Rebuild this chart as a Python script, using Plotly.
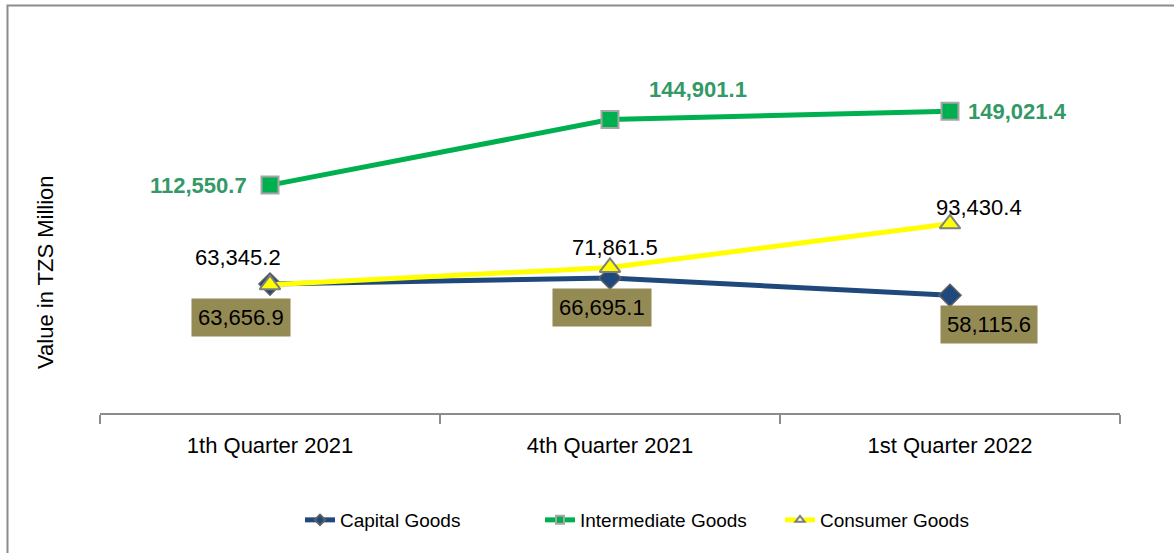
import plotly.graph_objects as go

categories = ["1th Quarter 2021", "4th Quarter 2021", "1st Quarter 2022"]
capital = [63656.9, 66695.1, 58115.6]
intermediate = [112550.7, 144901.1, 149021.4]
consumer = [63345.2, 71861.5, 93430.4]
series_names = ["Capital Goods", "Intermediate Goods", "Consumer Goods"]

FONT = "Liberation Sans, Arial, sans-serif"
C_CAP = "#1F497D"
C_INT = "#00B050"
C_CON = "#FFFF00"
EDGE = "#8C8C8C"

W, H = 1174, 553
L, R = 100, 54
T = 89
B = 140
PW = W - L - R
PH = H - T - B

specs = [
    (capital, series_names[0], C_CAP, "diamond", 17, "#5F5F5F", 1.5),
    (intermediate, series_names[1], C_INT, "square", 17, "#A6A6A6", 2),
    (consumer, series_names[2], C_CON, "triangle-up", 18, "#7F7F7F", 2),
]

fig = go.Figure()
for vals, name, col, sym, sz, ec, ew in specs:
    fig.add_trace(go.Scatter(
        x=categories, y=vals, name=name, mode="lines+markers", showlegend=False,
        line=dict(color=col, width=5),
        marker=dict(symbol=sym, size=sz, color=col, line=dict(color=ec, width=ew)),
    ))
# legend entries (smaller markers like the original legend)
for vals, name, col, sym, sz, ec, ew in specs:
    fig.add_trace(go.Scatter(
        x=[None], y=[None], name=name, mode="lines+markers", showlegend=True,
        line=dict(color=col, width=5),
        marker=dict(symbol=sym, size=8, color=(col if sym != "triangle-up" else "white"),
                    line=dict(color=ec, width=2)),
    ))

def fmt(v):
    return f"{v:,.1f}"

LS = 22
# Capital goods labels (boxed)
cap_shift = [(-29, -33), (-8, -30), (39, -29)]
for c, v, (dx, dy) in zip(categories, capital, cap_shift):
    fig.add_annotation(x=c, y=v, text=fmt(v), showarrow=False, xshift=dx, yshift=dy,
                       bgcolor="#948A54", borderpad=6,
                       font=dict(family=FONT, size=LS, color="#000000"))
# Consumer goods labels
con_shift = [(-32, 27), (5, 20), (29, 16)]
for c, v, (dx, dy) in zip(categories, consumer, con_shift):
    fig.add_annotation(x=c, y=v, text=fmt(v), showarrow=False, xshift=dx, yshift=dy,
                       font=dict(family=FONT, size=LS, color="#000000"))
# Intermediate goods labels
int_shift = [(-72, 0), (88, 30), (67, 0)]
for c, v, (dx, dy) in zip(categories, intermediate, int_shift):
    fig.add_annotation(x=c, y=v, text="<b>" + fmt(v) + "</b>", showarrow=False, xshift=dx, yshift=dy,
                       font=dict(family=FONT, size=LS, color="#339966"))

fig.add_annotation(
    xref="paper", yref="paper", x=(45 - L) / PW, y=(H - B - 272) / PH,
    xanchor="center", yanchor="middle",
    text="Value in TZS Million", textangle=-90, showarrow=False,
    font=dict(family=FONT, size=22, color="#000000"),
)

# outer chart frame
fig.add_shape(type="rect", xref="paper", yref="paper",
              x0=(7.5 - L) / PW, x1=(W + 20 - L) / PW,
              y0=(H - B - (H + 20)) / PH, y1=(H - B - 5.5) / PH,
              line=dict(color=EDGE, width=2), fillcolor="rgba(0,0,0,0)", layer="below")

fig.update_layout(
    width=W, height=H,
    margin=dict(l=L, r=R, t=T, b=B),
    paper_bgcolor="white", plot_bgcolor="white",
    font=dict(family=FONT, size=22, color="#000000"),
    showlegend=True,
    legend=dict(orientation="h", x=(300 - L) / PW, xanchor="left",
                y=(H - B - 520) / PH, yanchor="middle",
                font=dict(family=FONT, size=19, color="#000000"),
                entrywidth=195, entrywidthmode="pixels", bgcolor="rgba(0,0,0,0)"),
    xaxis=dict(type="category", range=[-0.5, 2.5], showline=True, linecolor=EDGE, linewidth=2,
               ticks="outside", tickson="boundaries", ticklen=9, tickwidth=2, tickcolor=EDGE,
               ticklabelstandoff=12,
               showgrid=False, zeroline=False,
               tickfont=dict(family=FONT, size=22, color="#000000")),
    yaxis=dict(range=[0, 160000], showgrid=False, zeroline=False, showticklabels=False,
               showline=False, ticks=""),
)

fig.write_html("out.html", config={"displayModeBar": False},
               post_script="document.body.style.margin='0';document.body.style.overflow='hidden';")
